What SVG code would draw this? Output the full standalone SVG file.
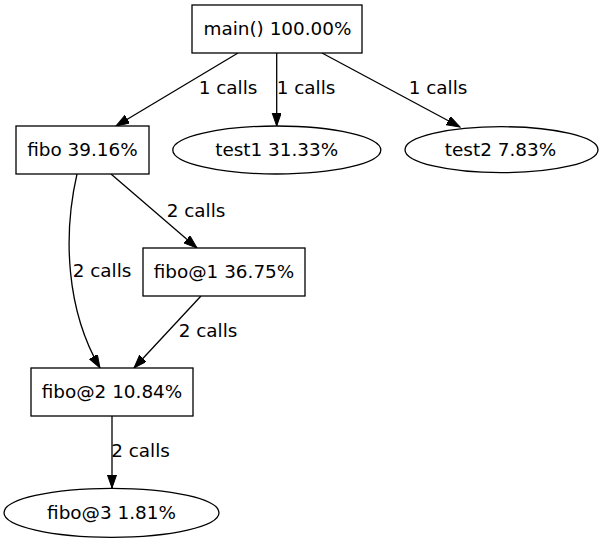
<svg xmlns="http://www.w3.org/2000/svg" width="603" height="544" viewBox="0 0 603 544">
<defs>
<marker id="arr" markerWidth="14" markerHeight="10" refX="13.3" refY="4.65" orient="auto" markerUnits="userSpaceOnUse">
<path d="M0,0 L13.3,4.65 L0,9.3 z" fill="#000" stroke="#000" stroke-width="1"/>
</marker>
<style>
text{font-family:"DejaVu Sans",sans-serif;font-size:18.4px;fill:#000;text-anchor:middle}
.n rect,.n ellipse{fill:#fff;stroke:#000;stroke-width:1.3}
.e path,.e line{fill:none;stroke:#000;stroke-width:1.3;marker-end:url(#arr)}
</style>
</defs>
<rect width="603" height="544" fill="#fff"/>
<g id="edges" class="e">
<line x1="238" y1="53" x2="116" y2="126"/>
<line x1="276.7" y1="53" x2="276.7" y2="126"/>
<line x1="322" y1="53" x2="460" y2="127"/>
<line x1="111" y1="174" x2="197" y2="248"/>
<path d="M77,174 C63,235 66,310 100,368"/>
<line x1="201" y1="296" x2="134" y2="368"/>
<line x1="112" y1="416" x2="112" y2="488"/>
<text x="228" y="94.2">1 calls</text>
<text x="306" y="94.2">1 calls</text>
<text x="438" y="94.3">1 calls</text>
<text x="196" y="216.7">2 calls</text>
<text x="102" y="277.3">2 calls</text>
<text x="208" y="336.7">2 calls</text>
<text x="140.5" y="456.8">2 calls</text>
</g>
<g id="main" class="n"><rect x="192" y="5" width="170" height="48"/><text x="277.5" y="34.6">main() 100.00%</text></g>
<g id="fibo" class="n"><rect x="16" y="126" width="133" height="48"/><text x="82.5" y="156">fibo 39.16%</text></g>
<g id="test1" class="n"><ellipse cx="276.8" cy="150" rx="104" ry="24"/><text x="276.7" y="156">test1 31.33%</text></g>
<g id="test2" class="n"><ellipse cx="501.5" cy="149.7" rx="96.5" ry="23"/><text x="500.5" y="156">test2 7.83%</text></g>
<g id="fibo1" class="n"><rect x="143" y="248" width="162" height="48"/><text x="224" y="278.2">fibo@1 36.75%</text></g>
<g id="fibo2" class="n"><rect x="31" y="368" width="162" height="48"/><text x="112" y="397.5">fibo@2 10.84%</text></g>
<g id="fibo3" class="n"><ellipse cx="111.5" cy="512.8" rx="107.5" ry="24.5"/><text x="111.5" y="518.5">fibo@3 1.81%</text></g>
</svg>
